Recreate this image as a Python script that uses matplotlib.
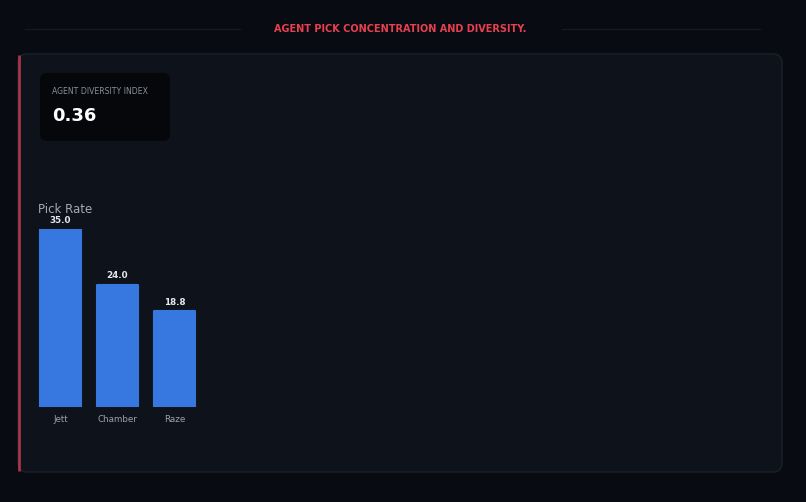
import matplotlib
matplotlib.use('agg')
import matplotlib.pyplot as plt
from matplotlib.patches import FancyBboxPatch

# data
agents = ['Jett', 'Chamber', 'Raze']
pick_rate = [35.0, 24.0, 18.8]
diversity_index = 0.36

title = 'AGENT PICK CONCENTRATION AND DIVERSITY.'
kpi_label = 'AGENT DIVERSITY INDEX'
chart_label = 'Pick Rate'

W, H = 806, 502
bg = '#080b12'
panel_bg = '#0e131b'
card_bg = '#05070a'
bar_color = '#3677e0'
red = '#e8404f'

fig = plt.figure(figsize=(W / 100, H / 100 + 0.001), dpi=100)
fig.patch.set_facecolor(bg)

# background layer in pixel coordinates
bg_ax = fig.add_axes([0, 0, 1, 1])
bg_ax.set_xlim(0, W)
bg_ax.set_ylim(H, 0)
bg_ax.axis('off')

# title with faint side lines
bg_ax.text(400, 29, title, color=red, fontsize=7, fontweight='bold',
           ha='center', va='center')
bg_ax.plot([25, 240], [29, 29], color='#141922', lw=1)
bg_ax.plot([562, 760], [29, 29], color='#141922', lw=1)

# main panel
panel = FancyBboxPatch((18, 54), 764, 418, boxstyle='round,pad=0,rounding_size=9',
                       facecolor=panel_bg, edgecolor='#1b212b', lw=1)
bg_ax.add_patch(panel)
bg_ax.plot([19, 19], [55, 471], color='#a8344a', lw=2, solid_capstyle='butt')

# KPI card
card = FancyBboxPatch((40, 73), 130, 68, boxstyle='round,pad=0,rounding_size=7',
                      facecolor=card_bg, edgecolor='none')
bg_ax.add_patch(card)
bg_ax.text(52, 91, kpi_label, color='#8a919c', fontsize=5.6, ha='left', va='center')
bg_ax.text(52, 116, f'{diversity_index:.2f}', color='#ffffff', fontsize=13,
           fontweight='bold', ha='left', va='center')

bg_ax.text(38, 209, chart_label, color='#a3abb6', fontsize=8.5, ha='left', va='center')

# bar chart: x from 32 to 203 px, zero line at y=407, top (35) at y=229
ax = fig.add_axes([32 / W, (H - 407) / H, 171 / W, 178 / H])
ax.set_facecolor('none')
x = range(len(agents))
ax.bar(x, pick_rate, width=0.72, color=bar_color, edgecolor=bar_color,
       lw=1.5, joinstyle='round')
ax.set_xlim(-0.5, len(agents) - 0.5)
ax.set_ylim(0, max(pick_rate))
for xi, v in zip(x, pick_rate):
    ax.annotate(f'{v:.1f}', (xi, v), xytext=(0, 6.5), textcoords='offset points',
                ha='center', va='center', color='#e3e7ee', fontsize=6.3,
                fontweight='bold', annotation_clip=False)
ax.set_xticks(list(x))
ax.set_xticklabels(agents, color='#9aa2ad', fontsize=6.3)
ax.tick_params(axis='x', length=0, pad=6)
ax.set_yticks([])
for s in ax.spines.values():
    s.set_visible(False)

fig.savefig('out.png', dpi=100, facecolor=bg)
